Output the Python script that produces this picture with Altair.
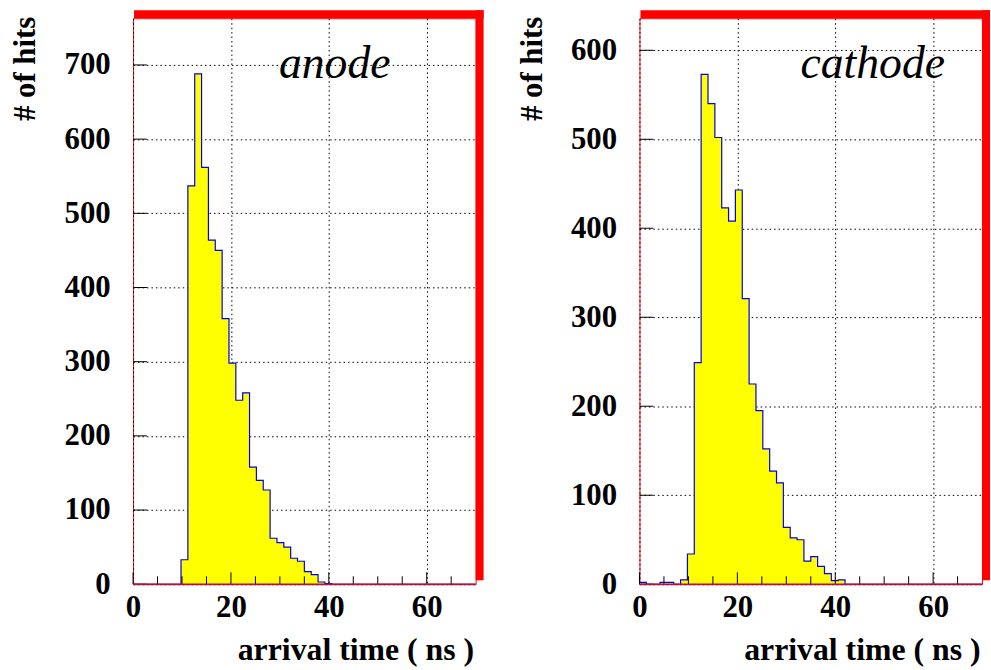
import altair as alt
import pandas as pd

BIN_WIDTH = 1.4
N_BINS = 50

anode_counts = [0, 0, 0, 0, 0, 0, 0, 33, 537, 688, 562, 464, 450, 358, 298, 248, 258,
                158, 140, 127, 62, 56, 50, 35, 31, 17, 13, 3, 1] + [0] * 21
cathode_counts = [2, 0, 0, 2, 2, 0, 5, 34, 249, 573, 540, 502, 423, 408, 443, 321, 225,
                  195, 152, 127, 114, 64, 52, 50, 26, 31, 20, 12, 4, 5] + [0] * 20

x_major = [0, 20, 40, 60]
x_minor = [5, 10, 15, 25, 30, 35, 45, 50, 55, 65]
anode_yticks = [0, 100, 200, 300, 400, 500, 600, 700]
cathode_yticks = [0, 100, 200, 300, 400, 500, 600]

FONT = "Liberation Serif"
W, H = 345, 570


def panel(counts, ymax, yticks, label, label_x, label_y):
    edges = [k * BIN_WIDTH for k in range(N_BINS + 1)]
    bins = pd.DataFrame({"x": edges[:-1], "x_end": edges[1:], "y": counts,
                         "base": [0] * N_BINS})
    step = pd.DataFrame({"x": edges, "y": counts + [counts[-1]]})
    yt = pd.DataFrame({"y": yticks})
    xmaj = pd.DataFrame({"x": x_major})
    xmin = pd.DataFrame({"x": x_minor})
    lab = pd.DataFrame({"x": [label_x], "y": [label_y], "t": [label]})
    dummy = pd.DataFrame({"a": [0]})

    xs = alt.Scale(domain=[0, 70], nice=False, zero=False)
    ys = alt.Scale(domain=[0, ymax], nice=False)
    x_axis = alt.Axis(values=x_major, ticks=False, domain=False, grid=True,
                      gridColor="black", gridDash=[1.5, 3], gridOpacity=1,
                      labelPadding=8, labelFlush=False, title="arrival time ( ns )",
                      titleX=343, titleY=76, titleAlign="right",
                      titleBaseline="alphabetic", titleFontSize=32)
    y_axis = alt.Axis(values=yticks, ticks=False, domain=False, grid=True,
                      gridColor="black", gridDash=[1.5, 3], gridOpacity=1,
                      labelPadding=23, labelFlush=False, title="# of hits",
                      titleAngle=270, titleX=-108, titleY=-2, titleAlign="right",
                      titleBaseline="middle")
    X = alt.X("x:Q", scale=xs, axis=x_axis, title="arrival time ( ns )")
    Y = alt.Y("y:Q", scale=ys, axis=y_axis, title="# of hits")

    fill = alt.Chart(bins).mark_rect(color="#ffff00", stroke="#ffff00",
                                     strokeWidth=0.8).encode(
        x=X, x2="x_end:Q", y=Y, y2="base:Q")
    outline = alt.Chart(step).mark_line(interpolate="step-after", color="#0000ff",
                                        strokeWidth=1.2).encode(x=X, y=Y)
    yt_r = alt.Chart(yt).mark_rule(color="black", strokeWidth=1).encode(
        y=Y, x=alt.value(0), x2=alt.value(14))
    xmaj_r = alt.Chart(xmaj).mark_rule(color="black", strokeWidth=1).encode(
        x=X, y=alt.value(H), y2=alt.value(H - 12))
    xmin_r = alt.Chart(xmin).mark_rule(color="black", strokeWidth=1).encode(
        x=X, y=alt.value(H), y2=alt.value(H - 8))
    bottom = alt.Chart(dummy).mark_rule(color="#b01048", strokeWidth=1.6).encode(
        x=alt.value(0), x2=alt.value(W), y=alt.value(H))
    band_top = alt.Chart(dummy).mark_rect(color="#ff0000").encode(
        x=alt.value(1), x2=alt.value(W + 8), y=alt.value(-8), y2=alt.value(0))
    band_right = alt.Chart(dummy).mark_rect(color="#ff0000").encode(
        x=alt.value(W), x2=alt.value(W + 8), y=alt.value(-8), y2=alt.value(H - 4))
    text = alt.Chart(lab).mark_text(font=FONT, fontStyle="italic", fontSize=46,
                                    align="left", baseline="alphabetic",
                                    color="black").encode(x=X, y=Y, text="t:N")
    return alt.layer(fill, outline, yt_r, xmaj_r, xmin_r, bottom, band_top,
                     band_right, text).properties(width=W, height=H)


left = panel(anode_counts, 763, anode_yticks, "anode", 29.8, 683)
right = panel(cathode_counts, 636, cathode_yticks, "cathode", 32.9, 569)

chart = alt.hconcat(left, right, spacing=31).properties(
    padding={"left": 9, "top": 7, "right": 0, "bottom": 0},
    background="white",
).configure_view(stroke="#ff0000", strokeWidth=1).configure_axis(
    labelFont=FONT, labelFontSize=31, labelFontWeight="bold", labelColor="black",
    titleFont=FONT, titleFontSize=31, titleFontWeight="bold", titleColor="black",
)

chart.save("out.html", embed_options={"renderer": "svg", "actions": False})
